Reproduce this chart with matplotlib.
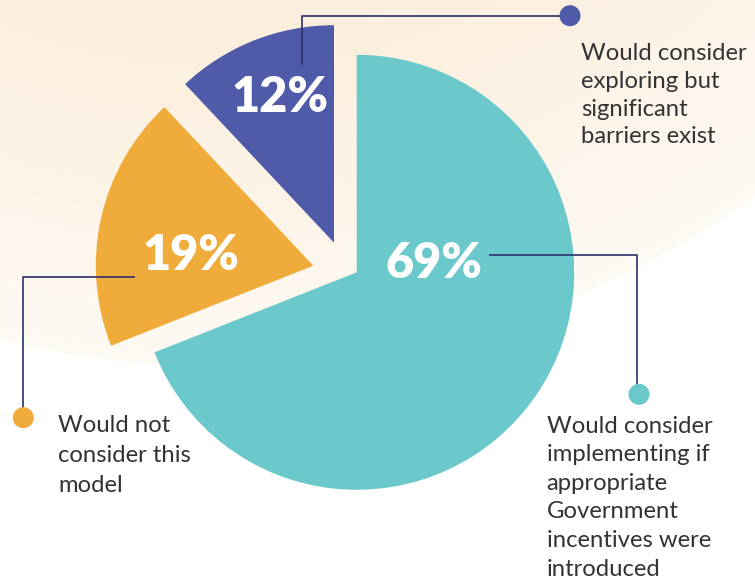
import matplotlib.pyplot as plt
import numpy as np
from matplotlib.patches import Circle, Wedge

# survey answers, clockwise from 12 o'clock
shares = [69, 19, 12]
answers = [
    "Would consider\nimplementing if\nappropriate\nGovernment\nincentives were\nintroduced",
    "Would not\nconsider this\nmodel",
    "Would consider\nexploring but\nsignificant\nbarriers exist",
]
colors = ["#6bc9cb", "#f0ac3a", "#4f5aa8"]

W, H = 755, 582
line_col = "#2c2f6e"
text_col = "#333333"

fig = plt.figure(figsize=(W / 100, H / 100), dpi=100)
ax = fig.add_axes([0, 0, 1, 1])

# soft peach disc in the background (radial fade towards its rim)
bg_cx, bg_cy, bg_r = 222.6, H + 549.3, 916.0
xx, yy = np.meshgrid(np.linspace(0, W, 380), np.linspace(0, H, 300))
dist = np.hypot(xx - bg_cx, yy - bg_cy)
t = np.clip((dist - 590) / (bg_r - 590), 0, 1)[..., None]
inner = np.array([252, 239, 221]) / 255
outer = np.array([254, 250, 244]) / 255
grad = inner * (1 - t) + outer * t
img = ax.imshow(grad, extent=[0, W, 0, H], origin="lower", zorder=0,
                interpolation="bilinear")
img.set_clip_path(Circle((bg_cx, bg_cy), bg_r, transform=ax.transData))

# pie, then nudge the two smaller slices away from the big one
cx, cy, r = 356.7, H - 272.3, 217.5
wedges, _ = ax.pie(shares, colors=colors, startangle=90, counterclock=False,
                   radius=r, center=(cx, cy),
                   wedgeprops=dict(linewidth=0, zorder=2))
offsets = [(0, 0), (-43.4, 6.6), (-22.7, 29.6)]
for w, (dx, dy) in zip(wedges, offsets):
    w.set_center((cx + dx, cy + dy))

# percentages inside the slices
pct_pos = [(434, H - 263), (191, H - 255), (280, H - 97.5)]
for (px, py), v in zip(pct_pos, shares):
    ax.text(px, py, f"{v}%", color="white", fontsize=35, fontweight="heavy",
            family="Lato", ha="center", va="center", zorder=4)

# leader lines ending in a coloured dot
leaders = [
    [(489, H - 254.5), (637, H - 254.5), (637, H - 386)],
    [(135, H - 276.7), (23.3, H - 276.7), (23.3, H - 408)],
    [(301.7, H - 65), (301.7, H - 15.7), (562, H - 15.7)],
]
dots = [(639, H - 394.3), (23.3, H - 417.7), (570, H - 15.7)]
for pts, (dx, dy), c in zip(leaders, dots, colors):
    xs, ys = zip(*pts)
    ax.plot(xs, ys, color=line_col, lw=1.2, zorder=3, solid_capstyle="butt")
    ax.add_patch(Circle((dx, dy), 10.5, color=c, zorder=4, lw=0))

# answer texts, one baseline per line
text_pos = [(546.7, H - 432.7, 28.6), (58, H - 431.7, 30.0), (581, H - 60, 27.8)]
for (tx, ty, step), label in zip(text_pos, answers):
    for i, line in enumerate(label.split("\n")):
        ax.text(tx, ty - i * step, line, color=text_col, fontsize=17.2,
                family="Lato", fontweight="normal", ha="left", va="baseline",
                zorder=4)

ax.set_xlim(0, W)
ax.set_ylim(0, H)
ax.set_aspect("equal")
ax.axis("off")

fig.savefig("out.png", dpi=100, facecolor="white")
